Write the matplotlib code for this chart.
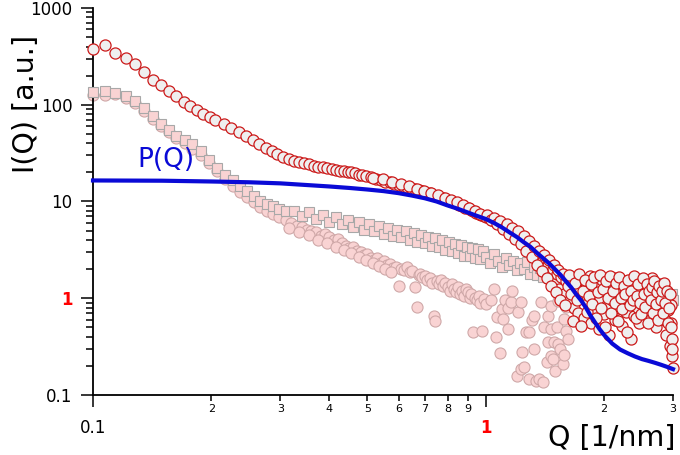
import matplotlib
matplotlib.use("Agg")
from matplotlib import pyplot as plt
from matplotlib.ticker import FixedLocator, FixedFormatter, NullFormatter

# ---- data ----
# red open circles
q_red = [
    0.100, 0.107, 0.114, 0.121, 0.128, 0.135, 0.142, 0.149, 0.156, 0.163,
    0.170, 0.177, 0.184, 0.191, 0.198,
    0.205, 0.215, 0.225, 0.235, 0.245, 0.255, 0.265, 0.275, 0.285, 0.295,
    0.305, 0.315, 0.325, 0.335, 0.345, 0.355, 0.365, 0.375, 0.385, 0.395,
    0.405, 0.415, 0.425, 0.435, 0.445, 0.455, 0.465, 0.475, 0.485, 0.495,
    0.510, 0.525, 0.540, 0.555, 0.570, 0.585, 0.600, 0.615, 0.630, 0.645,
    0.660, 0.675, 0.690, 0.705, 0.720, 0.735, 0.750, 0.765, 0.780, 0.795,
    0.810, 0.825, 0.840, 0.855, 0.870, 0.885, 0.900, 0.915, 0.930, 0.945,
    0.960, 0.975, 0.990,
    1.00, 1.02, 1.04, 1.06, 1.08, 1.10, 1.12, 1.14, 1.16, 1.18,
    1.20, 1.22, 1.24, 1.26, 1.28, 1.30, 1.32, 1.34, 1.36, 1.38,
    1.40, 1.42, 1.44, 1.46, 1.48, 1.50, 1.52, 1.54, 1.56, 1.58, 1.60,
    1.62, 1.64, 1.66, 1.68, 1.70, 1.72, 1.74, 1.76, 1.78, 1.80,
    1.82, 1.84, 1.86, 1.88, 1.90, 1.92, 1.94, 1.96, 1.98, 2.00,
    2.02, 2.04, 2.06, 2.08, 2.10, 2.12, 2.14, 2.16, 2.18, 2.20,
    2.22, 2.24, 2.26, 2.28, 2.30, 2.32, 2.34, 2.36, 2.38, 2.40,
    2.42, 2.44, 2.46, 2.48, 2.50, 2.52, 2.54, 2.56, 2.58, 2.60,
    2.62, 2.64, 2.66, 2.68, 2.70, 2.72, 2.74, 2.76, 2.78, 2.80,
    2.82, 2.84, 2.86, 2.88, 2.90, 2.92, 2.94, 2.96, 2.97, 2.98, 2.99, 3.00,
    # second run of the same sample
    0.5175, 0.5475, 0.5775, 0.6075, 0.6375, 0.6675, 0.6975, 0.7275,
    0.7575, 0.7875, 0.8175, 0.8475, 0.8775, 0.9075, 0.9375, 0.9675,
    1.01, 1.03, 1.05, 1.07, 1.09, 1.11, 1.13, 1.15, 1.17, 1.19,
    1.21, 1.23, 1.25, 1.27, 1.29, 1.31, 1.33, 1.35, 1.37, 1.39,
    1.41, 1.43, 1.45, 1.47, 1.49, 1.51, 1.53, 1.55, 1.57, 1.59,
    1.63, 1.65, 1.67, 1.69, 1.71, 1.73, 1.75, 1.77, 1.79, 1.81,
    1.83, 1.85, 1.87, 1.89, 1.91, 1.93, 1.95, 1.97, 1.99, 2.01,
    2.03, 2.05, 2.07, 2.09, 2.11, 2.13, 2.15, 2.17, 2.19, 2.21,
    2.23, 2.25, 2.27, 2.29, 2.31, 2.33, 2.35, 2.37, 2.39, 2.41,
    2.43, 2.45, 2.47, 2.49, 2.51, 2.53, 2.55, 2.57, 2.59, 2.61,
    2.63, 2.65, 2.67, 2.69, 2.71, 2.73, 2.75, 2.77, 2.79, 2.81,
    2.83, 2.85, 2.87, 2.89, 2.91, 2.93, 2.95, 2.97, 2.99,
]
i_red = [
    380, 415, 345, 305, 262, 218, 182, 160, 138, 122,
    108, 97, 89, 80, 74,
    70, 63, 57, 52, 47, 43, 39, 36, 33.5, 31,
    29, 27.8, 26.5, 25.5, 24.8, 24.2, 23.5, 23.0, 22.6, 22.0,
    21.7, 21.2, 20.9, 20.6, 20.4, 20.0, 19.5, 19.0, 18.6, 18.2,
    17.8, 17.2, 16.6, 16.0, 15.8, 15.1, 14.9, 14.4, 14.2, 13.7,
    13.5, 13.0, 12.9, 12.3, 12.1, 11.6, 11.5, 11.0, 10.8, 10.3,
    10.2, 9.8, 9.6, 9.2, 9.0, 8.6, 8.5, 8.1, 7.9, 7.6,
    7.5, 7.2, 7.1,
    6.95, 6.8, 6.5, 6.2, 6.0, 5.6, 5.4, 5.0, 4.8, 4.5,
    4.3, 4.0, 3.8, 3.5, 3.4, 3.1, 3.0, 2.6, 2.8, 2.3,
    2.5, 2.0, 2.2, 1.7, 2.0, 1.5, 1.8, 1.25, 1.65, 1.1, 1.5,
    1.35, 0.95, 1.6, 0.8, 1.25, 0.7, 1.45, 1.05, 0.62, 1.3,
    0.9, 1.7, 0.55, 1.1, 0.75, 1.35, 0.48, 1.0, 1.55, 0.68,
    1.2, 0.85, 0.42, 1.4, 0.95, 1.6, 0.6, 1.15, 0.8, 1.3,
    0.52, 1.05, 1.5, 0.72, 1.2, 0.9, 0.38, 1.35, 0.65, 1.1,
    1.55, 0.8, 0.55, 1.25, 0.95, 1.45, 0.7, 1.15, 0.85, 1.35,
    0.6, 1.05, 1.6, 0.78, 1.2, 0.5, 1.0, 1.4, 0.68, 1.1,
    0.88, 1.3, 0.6, 0.42, 1.0, 0.75, 0.32, 0.55, 0.85, 0.25, 0.38, 0.19,
    17.6, 16.9, 15.9, 15.2, 14.3, 13.6, 12.9, 12.3,
    11.6, 10.9, 10.4, 9.8, 9.1, 8.5, 8.0, 7.5,
    7.3, 6.4, 6.8, 5.8, 6.3, 5.2, 5.8, 4.6, 5.3, 4.1,
    4.9, 3.6, 4.4, 3.1, 3.9, 2.7, 3.5, 2.2, 3.1, 1.9,
    2.8, 1.6, 2.5, 1.35, 2.2, 1.15, 1.95, 0.95, 1.8, 0.85,
    1.75, 1.1, 0.58, 1.45, 0.95, 1.8, 0.52, 1.2, 1.55, 0.72,
    1.05, 1.4, 0.88, 1.65, 0.62, 1.15, 1.75, 0.8, 1.25, 0.5,
    1.5, 1.0, 1.7, 0.7, 1.2, 0.9, 1.45, 0.58, 1.65, 1.0,
    0.78, 1.35, 1.1, 0.45, 1.55, 0.85, 1.2, 0.95, 1.7, 0.62,
    1.05, 1.4, 0.9, 0.68, 1.6, 1.1, 0.82, 1.4, 0.55, 1.2,
    0.95, 1.3, 0.7, 1.5, 0.88, 1.15, 0.6, 1.35, 0.95, 1.2,
    0.7, 1.45, 0.9, 1.2, 0.55, 0.8, 1.1, 0.5, 0.3,
]

# pink squares (grey edge)
q_sq = [
    0.100, 0.107, 0.114, 0.121, 0.128, 0.135, 0.142, 0.149, 0.156, 0.163,
    0.171, 0.179, 0.188, 0.197, 0.207, 0.217, 0.227, 0.237, 0.247, 0.257,
    0.267, 0.277, 0.287, 0.297,
    0.310, 0.325, 0.340, 0.355, 0.370, 0.385, 0.400, 0.415, 0.430, 0.445,
    0.460, 0.475, 0.490, 0.505, 0.520, 0.535, 0.550, 0.565, 0.580, 0.595,
    0.610, 0.625, 0.640, 0.655, 0.670, 0.685, 0.700, 0.715, 0.730, 0.745,
    0.760, 0.775, 0.790, 0.805, 0.820, 0.835, 0.850, 0.865, 0.880, 0.895,
    0.910, 0.925, 0.940, 0.955, 0.970, 0.985,
    1.000, 1.025, 1.050, 1.075, 1.100, 1.125, 1.150, 1.175, 1.200, 1.225,
    1.250, 1.275, 1.300, 1.325, 1.350, 1.375, 1.400, 1.425, 1.450, 1.475,
    1.500, 1.525, 1.550, 1.575, 1.600, 1.625, 1.650, 1.675, 1.700, 1.725,
    1.750, 1.775, 1.800, 1.825, 1.850, 1.875, 1.900, 1.925, 1.950, 1.975,
    2.000, 2.025, 2.050, 2.075, 2.100, 2.125, 2.150, 2.175, 2.200, 2.225,
    2.250, 2.275, 2.300, 2.325, 2.350, 2.375, 2.400, 2.425, 2.450, 2.475,
    2.500, 2.525, 2.550, 2.575, 2.600, 2.625, 2.650, 2.675, 2.700, 2.725,
    2.750, 2.775, 2.800, 2.825, 2.850, 2.875, 2.900, 2.925, 2.950, 2.975,
    3.000,
]
i_sq = [
    136, 139, 133, 123, 110, 92, 76, 63, 55, 48,
    43, 39, 33, 27, 22, 19, 16.5, 14.5, 12.8, 11.4,
    10.2, 9.5, 8.9, 8.4,
    8.0, 7.9, 7.0, 7.7, 6.6, 7.2, 6.2, 6.9, 5.8, 6.5,
    5.5, 6.1, 5.1, 5.8, 4.9, 5.6, 4.6, 5.3, 4.4, 5.1,
    4.3, 4.9, 4.0, 4.7, 3.8, 4.5, 3.7, 4.3, 3.45, 4.2,
    3.35, 4.0, 3.15, 3.85, 3.1, 3.6, 2.95, 3.55, 2.75, 3.4,
    2.75, 3.3, 2.6, 3.2, 2.55, 3.05,
    2.7, 2.3, 2.9, 2.4, 2.1, 2.6, 2.2, 2.45, 1.95, 2.3,
    2.0, 2.35, 1.8, 2.1, 1.75, 2.05, 1.65, 1.95, 1.6, 1.85,
    1.5, 1.75, 1.45, 1.7, 1.4, 1.6, 1.35, 1.55, 1.3, 1.5,
    1.25, 1.45, 1.3, 1.5, 1.2, 1.4, 1.25, 1.45, 1.15, 1.35,
    1.2, 1.4, 1.1, 1.3, 1.2, 1.35, 1.1, 1.3, 1.05, 1.25,
    1.15, 1.3, 1.05, 1.2, 1.1, 1.25, 1.0, 1.2, 1.1, 1.25,
    1.0, 1.15, 1.05, 1.2, 0.98, 1.15, 1.05, 1.2, 0.95, 1.1,
    1.0, 1.15, 0.95, 1.1, 1.0, 1.15, 0.92, 1.05, 0.98, 1.1,
    0.95,
]

# pink circles
q_pk = [
    0.100, 0.107, 0.114, 0.121, 0.128, 0.135, 0.142, 0.149, 0.156, 0.163,
    0.171, 0.179, 0.188, 0.197, 0.207, 0.217, 0.227, 0.237, 0.247, 0.257,
    0.267, 0.277, 0.287, 0.297,
    0.31, 0.32, 0.33, 0.34, 0.35, 0.36, 0.37, 0.38, 0.39, 0.40,
    0.41, 0.42, 0.43, 0.44, 0.45, 0.46, 0.47, 0.48, 0.49, 0.50,
    0.51, 0.52, 0.53, 0.54, 0.55, 0.56, 0.57, 0.58, 0.59, 0.60,
    0.61, 0.62, 0.63, 0.64, 0.65, 0.66, 0.67, 0.675, 0.68, 0.69,
    0.70, 0.71, 0.72, 0.73, 0.74, 0.745, 0.75, 0.76, 0.77, 0.78,
    0.79, 0.80, 0.81, 0.82, 0.83, 0.84, 0.85, 0.86, 0.87, 0.88,
    0.89, 0.90, 0.91, 0.92, 0.93, 0.94, 0.95, 0.96, 0.97, 0.98,
    0.99, 1.00,
    1.03, 1.05, 1.06, 1.07, 1.09, 1.10, 1.11, 1.12, 1.14, 1.14,
    1.16, 1.17, 1.20, 1.21, 1.23, 1.23, 1.24, 1.25, 1.27, 1.29,
    1.29, 1.31, 1.33, 1.33, 1.34, 1.37, 1.38, 1.40, 1.41, 1.43,
    1.44, 1.44, 1.47, 1.47, 1.47, 1.48, 1.49, 1.50, 1.52, 1.53,
    1.53, 1.55, 1.57, 1.58, 1.58, 1.60, 1.60, 1.62,
    # lower strand between 0.3 and 0.6
    0.315, 0.335, 0.355, 0.375, 0.395, 0.415, 0.435, 0.455, 0.475, 0.495,
    0.515, 0.535, 0.555, 0.575,
]
i_pk = [
    125, 126, 128, 118, 104, 86, 72, 60, 52, 45,
    40, 35, 30, 25, 20.5, 17, 14.5, 12.4, 11.0, 9.8,
    8.8, 8.0, 7.4, 6.9,
    6.4, 6.0, 5.6, 5.4, 5.1, 4.9, 4.8, 4.4, 4.6, 4.3,
    4.0, 4.1, 3.7, 3.5, 3.3, 3.4, 3.1, 3.0, 2.8, 2.9,
    2.6, 2.5, 2.6, 2.3, 2.4, 2.2, 2.25, 2.05, 2.1, 1.33,
    2.0, 1.95, 2.1, 1.85, 1.9, 1.3, 0.81, 1.75, 1.8, 1.65,
    1.7, 1.55, 1.6, 1.45, 0.65, 0.58, 1.5, 1.4, 1.55, 1.35,
    1.45, 1.3, 1.2, 1.4, 1.25, 1.15, 1.3, 1.1, 1.2, 1.05,
    1.25, 1.15, 1.0, 1.1, 0.45, 1.0, 0.95, 1.05, 0.9, 0.46,
    0.98, 0.88,
    0.95, 1.24, 0.40, 0.64, 0.27, 0.78, 0.61, 0.95, 0.80, 0.48,
    0.91, 1.18, 0.157, 0.72, 0.91, 0.185, 0.28, 0.195, 0.45, 0.45,
    0.146, 0.60, 0.65, 0.30, 0.14, 0.146, 0.91, 0.137, 0.51, 0.22,
    0.65, 0.35, 0.48, 0.83, 0.25, 0.235, 0.35, 0.177, 0.51, 0.93,
    0.34, 0.30, 0.21, 0.26, 0.61, 0.46, 0.81, 0.38,
    5.3, 4.8, 4.5, 4.0, 3.75, 3.4, 3.15, 2.95, 2.7, 2.5,
    2.3, 2.15, 2.0, 1.85,
]

# P(Q) model curve
q_fit = [
    0.10, 0.15, 0.20, 0.25, 0.30, 0.35, 0.40, 0.45, 0.50, 0.55,
    0.60, 0.65, 0.70, 0.75, 0.80, 0.85, 0.90, 0.95, 1.00, 1.05,
    1.10, 1.15, 1.20, 1.25, 1.30, 1.35, 1.40, 1.45, 1.50, 1.55,
    1.60, 1.65, 1.70, 1.75, 1.80, 1.85, 1.90, 1.95, 2.00, 2.10,
    2.20, 2.30, 2.40, 2.50, 2.60, 2.70, 2.80, 2.90, 3.00,
]
i_fit = [
    16.5, 16.4, 16.1, 15.8, 15.4, 14.8, 14.3, 13.8, 13.3, 12.8,
    12.2, 11.5, 10.8, 10.0, 9.1, 8.4, 7.7, 7.1, 6.6, 6.0,
    5.4, 4.8, 4.3, 3.8, 3.4, 2.95, 2.6, 2.3, 2.0, 1.75,
    1.5, 1.3, 1.1, 0.95, 0.8, 0.66, 0.56, 0.48, 0.42, 0.34,
    0.295, 0.27, 0.25, 0.235, 0.225, 0.215, 0.205, 0.195, 0.185,
]

x_major = [0.1, 1]
x_major_labels = ["0.1", "1"]
x_minor = [0.2, 0.3, 0.4, 0.5, 0.6, 0.7, 0.8, 0.9, 2, 3]
x_minor_labels = ["2", "3", "4", "5", "6", "7", "8", "9", "2", "3"]
y_major = [0.1, 1, 10, 100, 1000]
y_major_labels = ["0.1", "1", "10", "100", "1000"]
y_minor = [m * d for d in (0.1, 1, 10, 100) for m in range(2, 10)]

fig = plt.figure(figsize=(6.8, 4.55), dpi=100)
ax = fig.add_axes([0.1368, 0.1319, 0.8529, 0.8505])

ax.plot(q_pk, i_pk, "o", ms=8, mfc="#f9d3d3", mec="#cfa8a8", mew=0.8,
        clip_on=False, zorder=2)
ax.plot(q_sq, i_sq, "s", ms=7.5, mfc="#f9d3d3", mec="#a8a8a8", mew=0.8,
        clip_on=False, zorder=3)
ax.plot(q_red, i_red, "o", ms=8, mfc="#efefef", mec="#cc1a1a", mew=0.9,
        clip_on=False, zorder=4)
ax.plot(q_fit, i_fit, "-", color="#0a0ad6", lw=3, clip_on=False, zorder=5)

ax.text(0.153, 27, "P(Q)", color="#0a0ad6", fontsize=19,
        ha="center", va="center", zorder=6)

ax.set_xscale("log")
ax.set_yscale("log")
ax.set_xlim(0.1, 3)
ax.set_ylim(0.1, 1000)

for s in ("top", "right"):
    ax.spines[s].set_visible(False)
for s in ("left", "bottom"):
    ax.spines[s].set_linewidth(1.3)

ax.xaxis.set_major_locator(FixedLocator(x_major))
ax.xaxis.set_major_formatter(FixedFormatter(x_major_labels))
ax.xaxis.set_minor_locator(FixedLocator(x_minor))
ax.xaxis.set_minor_formatter(FixedFormatter(x_minor_labels))
ax.yaxis.set_major_locator(FixedLocator(y_major))
ax.yaxis.set_major_formatter(FixedFormatter(y_major_labels))
ax.yaxis.set_minor_locator(FixedLocator(y_minor))
ax.yaxis.set_minor_formatter(NullFormatter())

ax.tick_params(axis="x", which="major", direction="out", length=8.6,
               width=1.1, pad=9, labelsize=12)
ax.tick_params(axis="x", which="minor", direction="out", length=4.3,
               width=1.1, pad=2.5, labelsize=8)
ax.tick_params(axis="y", which="major", direction="out", length=8.6,
               width=1.1, pad=6, labelsize=12)
ax.tick_params(axis="y", which="minor", direction="out", length=5,
               width=1.1)

# highlight "1" in red on both axes
fig.canvas.draw()
for lab in ax.get_xticklabels() + ax.get_yticklabels():
    if lab.get_text() == "1":
        lab.set_color("red")
        lab.set_fontweight("bold")
ax.xaxis.get_major_ticks()[1].tick1line.set_color("red")
ax.yaxis.get_major_ticks()[1].tick1line.set_color("red")

fig.text(0.038, 0.772, "I(Q) [a.u.]", rotation=90, fontsize=20.5,
         ha="center", va="center")
fig.text(0.993, 0.037, "Q [1/nm]", fontsize=20.5, ha="right", va="center")

fig.savefig("out.png", dpi=100)
